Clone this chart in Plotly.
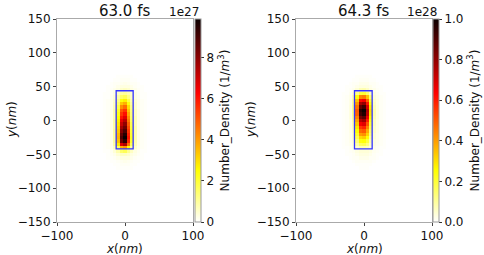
import plotly.graph_objects as go

# grid cell centres (nm)
x_cells = [-30, -25, -20, -15, -10, -5, 0, 5, 10, 15, 20, 25, 30]
y_cells = [65, 60, 55, 50, 45, 40, 35, 30, 25, 20, 15, 10, 5, 0, -5, -10, -15, -20,
           -25, -30, -35, -40, -45, -50, -55, -60, -65, -70]

# number density, left panel (63.0 fs) in units of 1e27 m^-3
density_left = [
    [0.00, 0.00, 0.00, 0.00, 0.05, 0.05, 0.05, 0.05, 0.05, 0.00, 0.00, 0.00, 0.00],
    [0.00, 0.00, 0.00, 0.05, 0.05, 0.10, 0.10, 0.10, 0.05, 0.05, 0.00, 0.00, 0.00],
    [0.00, 0.00, 0.05, 0.10, 0.10, 0.15, 0.20, 0.15, 0.10, 0.10, 0.05, 0.00, 0.00],
    [0.00, 0.05, 0.05, 0.10, 0.20, 0.30, 0.30, 0.30, 0.20, 0.10, 0.05, 0.05, 0.00],
    [0.00, 0.05, 0.10, 0.20, 0.30, 0.50, 0.60, 0.50, 0.30, 0.20, 0.10, 0.05, 0.00],
    [0.05, 0.05, 0.10, 0.30, 0.60, 0.90, 1.00, 0.80, 0.50, 0.30, 0.10, 0.05, 0.05],
    [0.05, 0.05, 0.15, 0.40, 0.90, 1.50, 1.70, 1.20, 0.60, 0.30, 0.15, 0.05, 0.05],
    [0.05, 0.10, 0.20, 0.50, 1.20, 2.40, 2.70, 1.80, 0.80, 0.40, 0.20, 0.10, 0.05],
    [0.05, 0.10, 0.20, 0.60, 1.50, 3.30, 3.70, 2.40, 1.00, 0.50, 0.20, 0.10, 0.05],
    [0.05, 0.10, 0.20, 0.70, 1.80, 4.20, 4.70, 3.00, 1.20, 0.50, 0.20, 0.10, 0.05],
    [0.05, 0.10, 0.25, 0.80, 2.10, 5.00, 5.50, 3.40, 1.30, 0.60, 0.25, 0.10, 0.05],
    [0.05, 0.10, 0.25, 0.80, 2.30, 5.50, 6.10, 3.80, 1.40, 0.60, 0.25, 0.10, 0.05],
    [0.05, 0.10, 0.25, 0.80, 2.50, 6.00, 6.70, 4.20, 1.50, 0.70, 0.25, 0.10, 0.05],
    [0.05, 0.10, 0.25, 0.90, 2.70, 6.60, 7.30, 4.50, 1.60, 0.70, 0.25, 0.10, 0.05],
    [0.05, 0.10, 0.25, 0.90, 2.90, 7.10, 7.90, 4.90, 1.80, 0.70, 0.25, 0.10, 0.05],
    [0.05, 0.10, 0.25, 0.90, 3.10, 7.60, 8.40, 5.20, 1.90, 0.80, 0.25, 0.10, 0.05],
    [0.05, 0.10, 0.25, 1.00, 3.30, 8.10, 8.90, 5.50, 2.00, 0.80, 0.25, 0.10, 0.05],
    [0.05, 0.10, 0.25, 1.00, 3.50, 8.60, 9.50, 5.80, 2.10, 0.80, 0.25, 0.10, 0.05],
    [0.05, 0.10, 0.25, 1.00, 3.60, 8.90, 9.90, 6.00, 2.20, 0.80, 0.25, 0.10, 0.05],
    [0.05, 0.10, 0.25, 1.00, 3.40, 8.50, 9.40, 5.70, 2.10, 0.80, 0.25, 0.10, 0.05],
    [0.05, 0.10, 0.25, 0.90, 2.80, 6.80, 7.50, 4.60, 1.70, 0.70, 0.25, 0.10, 0.05],
    [0.05, 0.10, 0.20, 0.60, 1.60, 3.60, 4.00, 2.50, 1.00, 0.50, 0.20, 0.10, 0.05],
    [0.05, 0.05, 0.15, 0.40, 0.80, 1.50, 1.70, 1.10, 0.60, 0.30, 0.15, 0.05, 0.05],
    [0.00, 0.05, 0.10, 0.20, 0.40, 0.60, 0.60, 0.50, 0.30, 0.20, 0.10, 0.05, 0.00],
    [0.00, 0.05, 0.05, 0.10, 0.20, 0.30, 0.30, 0.30, 0.20, 0.10, 0.05, 0.05, 0.00],
    [0.00, 0.00, 0.05, 0.05, 0.10, 0.15, 0.20, 0.15, 0.10, 0.05, 0.05, 0.00, 0.00],
    [0.00, 0.00, 0.00, 0.05, 0.05, 0.10, 0.10, 0.10, 0.05, 0.05, 0.00, 0.00, 0.00],
    [0.00, 0.00, 0.00, 0.00, 0.05, 0.05, 0.05, 0.05, 0.05, 0.00, 0.00, 0.00, 0.00],
]

# number density, right panel (64.3 fs) in units of 1e28 m^-3
density_right = [
    [0.000, 0.000, 0.000, 0.000, 0.005, 0.005, 0.005, 0.005, 0.005, 0.000, 0.000, 0.000, 0.000],
    [0.000, 0.000, 0.000, 0.005, 0.005, 0.010, 0.010, 0.010, 0.005, 0.005, 0.000, 0.000, 0.000],
    [0.000, 0.000, 0.005, 0.010, 0.010, 0.020, 0.020, 0.020, 0.010, 0.010, 0.005, 0.000, 0.000],
    [0.000, 0.005, 0.005, 0.010, 0.020, 0.030, 0.030, 0.030, 0.020, 0.010, 0.005, 0.005, 0.000],
    [0.000, 0.005, 0.010, 0.020, 0.040, 0.070, 0.080, 0.060, 0.030, 0.020, 0.010, 0.005, 0.000],
    [0.005, 0.005, 0.015, 0.040, 0.120, 0.190, 0.200, 0.150, 0.070, 0.030, 0.015, 0.005, 0.005],
    [0.005, 0.010, 0.020, 0.070, 0.240, 0.430, 0.450, 0.340, 0.140, 0.040, 0.020, 0.010, 0.005],
    [0.005, 0.010, 0.025, 0.090, 0.340, 0.620, 0.650, 0.490, 0.200, 0.050, 0.025, 0.010, 0.005],
    [0.005, 0.010, 0.025, 0.100, 0.410, 0.760, 0.800, 0.600, 0.240, 0.060, 0.025, 0.010, 0.005],
    [0.005, 0.010, 0.030, 0.110, 0.460, 0.870, 0.920, 0.690, 0.280, 0.070, 0.030, 0.010, 0.005],
    [0.005, 0.010, 0.030, 0.110, 0.500, 0.950, 1.000, 0.750, 0.300, 0.080, 0.030, 0.010, 0.005],
    [0.005, 0.010, 0.030, 0.110, 0.490, 0.920, 0.970, 0.730, 0.290, 0.080, 0.030, 0.010, 0.005],
    [0.005, 0.010, 0.030, 0.100, 0.440, 0.840, 0.880, 0.660, 0.260, 0.070, 0.030, 0.010, 0.005],
    [0.005, 0.010, 0.025, 0.090, 0.390, 0.740, 0.780, 0.590, 0.230, 0.060, 0.025, 0.010, 0.005],
    [0.005, 0.010, 0.025, 0.080, 0.340, 0.650, 0.680, 0.510, 0.200, 0.060, 0.025, 0.010, 0.005],
    [0.005, 0.010, 0.025, 0.070, 0.290, 0.550, 0.580, 0.440, 0.170, 0.050, 0.025, 0.010, 0.005],
    [0.005, 0.010, 0.025, 0.060, 0.250, 0.480, 0.500, 0.380, 0.150, 0.050, 0.025, 0.010, 0.005],
    [0.005, 0.010, 0.020, 0.050, 0.210, 0.400, 0.420, 0.320, 0.130, 0.040, 0.020, 0.010, 0.005],
    [0.005, 0.010, 0.020, 0.050, 0.170, 0.310, 0.330, 0.250, 0.100, 0.040, 0.020, 0.010, 0.005],
    [0.005, 0.010, 0.020, 0.040, 0.130, 0.240, 0.250, 0.190, 0.080, 0.030, 0.020, 0.010, 0.005],
    [0.005, 0.010, 0.015, 0.035, 0.090, 0.160, 0.170, 0.130, 0.060, 0.030, 0.015, 0.010, 0.005],
    [0.005, 0.005, 0.010, 0.025, 0.050, 0.080, 0.080, 0.070, 0.040, 0.020, 0.010, 0.005, 0.005],
    [0.000, 0.005, 0.010, 0.015, 0.030, 0.040, 0.040, 0.040, 0.030, 0.015, 0.010, 0.005, 0.000],
    [0.000, 0.005, 0.005, 0.010, 0.020, 0.030, 0.030, 0.030, 0.020, 0.010, 0.005, 0.005, 0.000],
    [0.000, 0.000, 0.005, 0.010, 0.010, 0.020, 0.020, 0.020, 0.010, 0.010, 0.005, 0.000, 0.000],
    [0.000, 0.000, 0.000, 0.005, 0.010, 0.010, 0.010, 0.010, 0.010, 0.005, 0.000, 0.000, 0.000],
    [0.000, 0.000, 0.000, 0.000, 0.005, 0.005, 0.005, 0.005, 0.005, 0.000, 0.000, 0.000, 0.000],
    [0.000, 0.000, 0.000, 0.000, 0.000, 0.005, 0.005, 0.005, 0.000, 0.000, 0.000, 0.000, 0.000],
]

titles = ["63.0 fs", "64.3 fs"]
exponents = ["1e27", "1e28"]
zmax_vals = [9.9, 1.0]
left_box = [-13, 12, -42, 44]
right_box = [-14, 12, -42, 44]
x_ticks = [-100, 0, 100]
y_ticks = [-150, -100, -50, 0, 50, 100, 150]
cb_ticks_left = [0, 2, 4, 6, 8]
cb_ticks_right = [0.0, 0.2, 0.4, 0.6, 0.8, 1.0]
x_label = "<i>x</i>(<i>nm</i>)"
y_label = "<i>y</i>(<i>nm</i>)"
cb_label = "Number_Density (1/<i>m</i><sup>3</sup>)"

hot_r = [[0.0, "#ffffff"], [0.254, "#ffff00"], [0.635, "#ff0000"], [1.0, "#0b0000"]]

W, H = 484, 255
FONT = "DejaVu Sans"
FS = 12
TXT = "#111111"
fig = go.Figure()

panels = [
    dict(xd=[57 / W, 193 / W], cbx=195 / W, z=density_left,
         ticks=cb_ticks_left, fmt="d", box=left_box, xa="x", ya="y"),
    dict(xd=[296 / W, 432 / W], cbx=433 / W, z=density_right,
         ticks=cb_ticks_right, fmt=".1f", box=right_box, xa="x2", ya="y2"),
]
ydom = [1 - 222 / H, 1 - 19 / H]

for i, p in enumerate(panels):
    fig.add_trace(go.Heatmap(
        x=x_cells, y=y_cells, z=p["z"], xaxis=p["xa"], yaxis=p["ya"],
        colorscale=hot_r, zmin=0, zmax=zmax_vals[i], hoverinfo="skip",
        colorbar=dict(
            x=p["cbx"], xanchor="left", xpad=0, ypad=0,
            y=ydom[0], yanchor="bottom", len=ydom[1] - ydom[0], lenmode="fraction",
            thickness=6, outlinecolor="#999999", outlinewidth=1,
            tickvals=p["ticks"], tickformat=p["fmt"], ticks="outside", ticklen=3,
            tickcolor="#333", tickfont=dict(family=FONT, size=FS, color=TXT),
            title=dict(text=cb_label, side="right",
                       font=dict(family=FONT, size=FS, color=TXT)),
        ),
    ))
    x0, x1, y0, y1 = p["box"]
    fig.add_shape(type="rect", xref=p["xa"], yref=p["ya"], x0=x0, x1=x1, y0=y0, y1=y1,
                  line=dict(color="#3535ff", width=1.3))

axis_common = dict(showgrid=False, zeroline=False, showline=True, mirror=True,
                   linecolor="#aaaaaa", linewidth=1, ticks="outside", ticklen=3,
                   tickcolor="#444", automargin=False,
                   tickfont=dict(family=FONT, size=FS, color=TXT))

fig.update_layout(
    width=W, height=H, margin=dict(l=0, r=0, t=0, b=0, autoexpand=False),
    paper_bgcolor="white", plot_bgcolor="white",
    xaxis=dict(axis_common, domain=panels[0]["xd"], range=[-100, 100], tickvals=x_ticks, anchor="y"),
    yaxis=dict(axis_common, domain=ydom, range=[-150, 150], tickvals=y_ticks, anchor="x"),
    xaxis2=dict(axis_common, domain=panels[1]["xd"], range=[-100, 100], tickvals=x_ticks, anchor="y2"),
    yaxis2=dict(axis_common, domain=ydom, range=[-150, 150], tickvals=y_ticks, anchor="x2"),
    showlegend=False,
)

# panel titles, axis titles and colorbar exponents
for i, cx in enumerate([125 / W, 363 / W]):
    fig.add_annotation(text=titles[i], xref="paper", yref="paper", x=cx, y=1 - 11 / H,
                       xanchor="center", yanchor="middle", showarrow=False,
                       font=dict(family=FONT, size=15, color=TXT))
for cx in [125 / W, 364 / W]:
    fig.add_annotation(text=x_label, xref="paper", yref="paper", x=cx, y=1 - 248.5 / H,
                       xanchor="center", yanchor="middle", showarrow=False,
                       font=dict(family=FONT, size=FS, color=TXT))
for lx in [12 / W, 251 / W]:
    fig.add_annotation(text=y_label, xref="paper", yref="paper", x=lx, y=1 - 120 / H,
                       xanchor="center", yanchor="middle", showarrow=False, textangle=-90,
                       font=dict(family=FONT, size=FS, color=TXT))
for i, ex in enumerate([201 / W, 439 / W]):
    fig.add_annotation(text=exponents[i], xref="paper", yref="paper", x=ex, y=1 - 12 / H,
                       xanchor="right", yanchor="middle", showarrow=False,
                       font=dict(family=FONT, size=FS, color=TXT))

fig.write_html("out.html", config={"displayModeBar": False},
               post_script="document.body.style.margin='0px';")
